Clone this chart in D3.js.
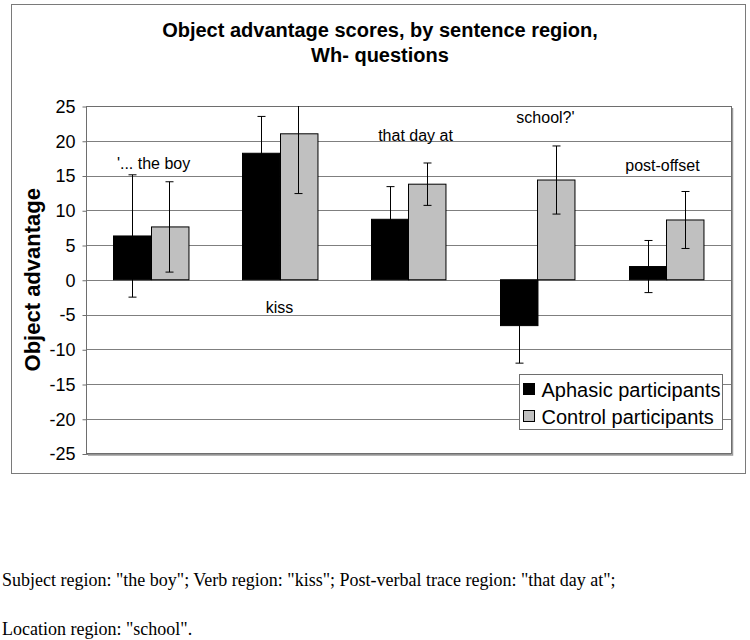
<!DOCTYPE html>
<html>
<head>
<meta charset="utf-8">
<script src="https://cdn.jsdelivr.net/npm/d3@7"></script>
<style>
  body { margin: 0; background: #fff; }
  svg text { font-family: "Liberation Sans", Arial, sans-serif; }
</style>
</head>
<body>
<div id="chart"></div>
<script>
// ---- data ----
const regions      = ["'... the boy", "kiss", "that day at", "school?'", "post-offset"];
const seriesNames  = ["Aphasic participants", "Control participants"];
const aphasicMean  = [6.3, 18.2, 8.7, -6.6, 1.9];
const aphasicErr   = [8.8, 5.3, 4.7, 5.4, 3.75];
const controlMean  = [7.6, 21.0, 13.75, 14.35, 8.6];
const controlErr   = [6.5, 8.6, 3.05, 4.9, 4.1];
const yTicks       = [-25, -20, -15, -10, -5, 0, 5, 10, 15, 20, 25];
const footnotes    = [
  'Subject region: "the boy"; Verb region: "kiss"; Post-verbal trace region: "that day at";',
  'Location region: "school".'
];

// where the region words sit (value on y axis, shift in px from group centre)
const labelLevel = [16.0, -4.75, 19.9, 22.5, 15.7];
const labelShift = [3, 0, 7, 8, -4];

const colors = ["#000000", "#c0c0c0"];

// ---- layout ----
const W = 750, H = 640;
const plot = { left: 86, top: 106, right: 731, bottom: 453.5 };

const svg = d3.select("#chart").append("svg")
  .attr("width", W)
  .attr("height", H);

// outer chart frame
svg.append("rect")
  .attr("x", 11.5).attr("y", 4.5)
  .attr("width", 734).attr("height", 469)
  .attr("fill", "#fff")
  .attr("stroke", "#7a7a7a")
  .attr("stroke-width", 1);

// title
const title = svg.append("text")
  .attr("x", 380)
  .attr("y", 37)
  .attr("text-anchor", "middle")
  .style("font-size", "20px")
  .style("font-weight", "bold");
title.append("tspan").attr("x", 380).text("Object advantage scores, by sentence region,");
title.append("tspan").attr("x", 380).attr("dy", 25).text("Wh- questions");

// scales
const x0 = d3.scaleBand()
  .domain(regions)
  .range([plot.left, plot.right])
  .paddingInner(0.419)
  .paddingOuter(0.21);

const x1 = d3.scaleBand()
  .domain(seriesNames)
  .range([0, x0.bandwidth()]);

const y = d3.scaleLinear()
  .domain([-25, 25])
  .range([plot.bottom, plot.top]);

// gridlines
svg.append("g")
  .selectAll("line")
  .data(yTicks)
  .join("line")
  .attr("x1", plot.left).attr("x2", plot.right)
  .attr("y1", d => Math.round(y(d)) + 0.5)
  .attr("y2", d => Math.round(y(d)) + 0.5)
  .attr("stroke", "#7f7f7f")
  .attr("stroke-width", 1);

// plot frame, with the little shadow on right and bottom
svg.append("path")
  .attr("d", `M${plot.right + 1.5},${plot.top + 2} V${plot.bottom + 1.5} H${plot.left + 2}`)
  .attr("fill", "none")
  .attr("stroke", "#9a9a9a")
  .attr("stroke-width", 1.5);
svg.append("rect")
  .attr("x", plot.left + 0.5).attr("y", plot.top + 0.5)
  .attr("width", plot.right - plot.left).attr("height", plot.bottom - plot.top - 0.5)
  .attr("fill", "none")
  .attr("stroke", "#6e6e6e")
  .attr("stroke-width", 1);

// y axis (plain hyphen for negatives, as in the original)
const yAxis = svg.append("g")
  .attr("transform", `translate(${plot.left + 0.5},0.5)`)
  .call(d3.axisLeft(y).tickValues(yTicks).tickSize(4).tickPadding(7).tickFormat(d => String(d)));
yAxis.select(".domain").remove();
yAxis.selectAll("line").attr("stroke", "#6e6e6e");
yAxis.selectAll("text")
  .attr("fill", "#000")
  .style("font-family", "'Liberation Sans', Arial, sans-serif")
  .style("font-size", "18px");

svg.append("text")
  .attr("transform", `translate(40,${(plot.top + plot.bottom) / 2}) rotate(-90)`)
  .attr("text-anchor", "middle")
  .style("font-size", "22px")
  .style("font-weight", "bold")
  .text("Object advantage");

// rows for the bars
const rows = [];
regions.forEach((r, i) => {
  rows.push({ region: r, series: seriesNames[0], value: aphasicMean[i], err: aphasicErr[i], c: colors[0] });
  rows.push({ region: r, series: seriesNames[1], value: controlMean[i], err: controlErr[i], c: colors[1] });
});

svg.append("defs").append("clipPath").attr("id", "plotClip")
  .append("rect")
  .attr("x", plot.left).attr("y", plot.top)
  .attr("width", plot.right - plot.left).attr("height", plot.bottom - plot.top);

const bars = svg.append("g").attr("clip-path", "url(#plotClip)");

bars.selectAll("rect")
  .data(rows)
  .join("rect")
  .attr("x", d => Math.round(x0(d.region) + x1(d.series)) + 0.5)
  .attr("y", d => y(Math.max(0, d.value)))
  .attr("width", x1.bandwidth())
  .attr("height", d => Math.abs(y(d.value) - y(0)))
  .attr("fill", d => d.c)
  .attr("stroke", "#000")
  .attr("stroke-width", 1);

// error bars
const errG = bars.selectAll("g.err")
  .data(rows)
  .join("g")
  .attr("class", "err")
  .attr("transform", d => `translate(${Math.round(x0(d.region) + x1(d.series) + x1.bandwidth() / 2) + 0.5},0)`);

errG.append("line")
  .attr("y1", d => y(d.value + d.err))
  .attr("y2", d => y(d.value - d.err))
  .attr("stroke", "#000");
errG.append("line")
  .attr("x1", -4).attr("x2", 4)
  .attr("y1", d => y(d.value + d.err)).attr("y2", d => y(d.value + d.err))
  .attr("stroke", "#000");
errG.append("line")
  .attr("x1", -4).attr("x2", 4)
  .attr("y1", d => y(d.value - d.err)).attr("y2", d => y(d.value - d.err))
  .attr("stroke", "#000");

// region words inside the plot
svg.append("g")
  .selectAll("text")
  .data(regions)
  .join("text")
  .attr("x", (d, i) => x0(d) + x0.bandwidth() / 2 + labelShift[i])
  .attr("y", (d, i) => y(labelLevel[i]))
  .attr("text-anchor", "middle")
  .style("font-size", "16px")
  .text(d => d);

// legend
const legend = svg.append("g").attr("transform", "translate(519.5,374.5)");
legend.append("rect")
  .attr("width", 203).attr("height", 55)
  .attr("fill", "#fff")
  .attr("stroke", "#6e6e6e");
const li = legend.selectAll("g")
  .data(seriesNames)
  .join("g")
  .attr("transform", (d, i) => `translate(4,${9 + i * 27})`);
li.append("rect")
  .attr("width", 11).attr("height", 11)
  .attr("fill", (d, i) => colors[i])
  .attr("stroke", "#000");
li.append("text")
  .attr("x", 18)
  .attr("y", 13)
  .style("font-size", "20px")
  .text(d => d);

// footnote under the chart
svg.append("g")
  .selectAll("text")
  .data(footnotes)
  .join("text")
  .attr("x", 2)
  .attr("y", (d, i) => 586 + i * 49)
  .style("font-family", "'Liberation Serif', 'Times New Roman', serif")
  .style("font-size", "18px")
  .text(d => d);
</script>
</body>
</html>
